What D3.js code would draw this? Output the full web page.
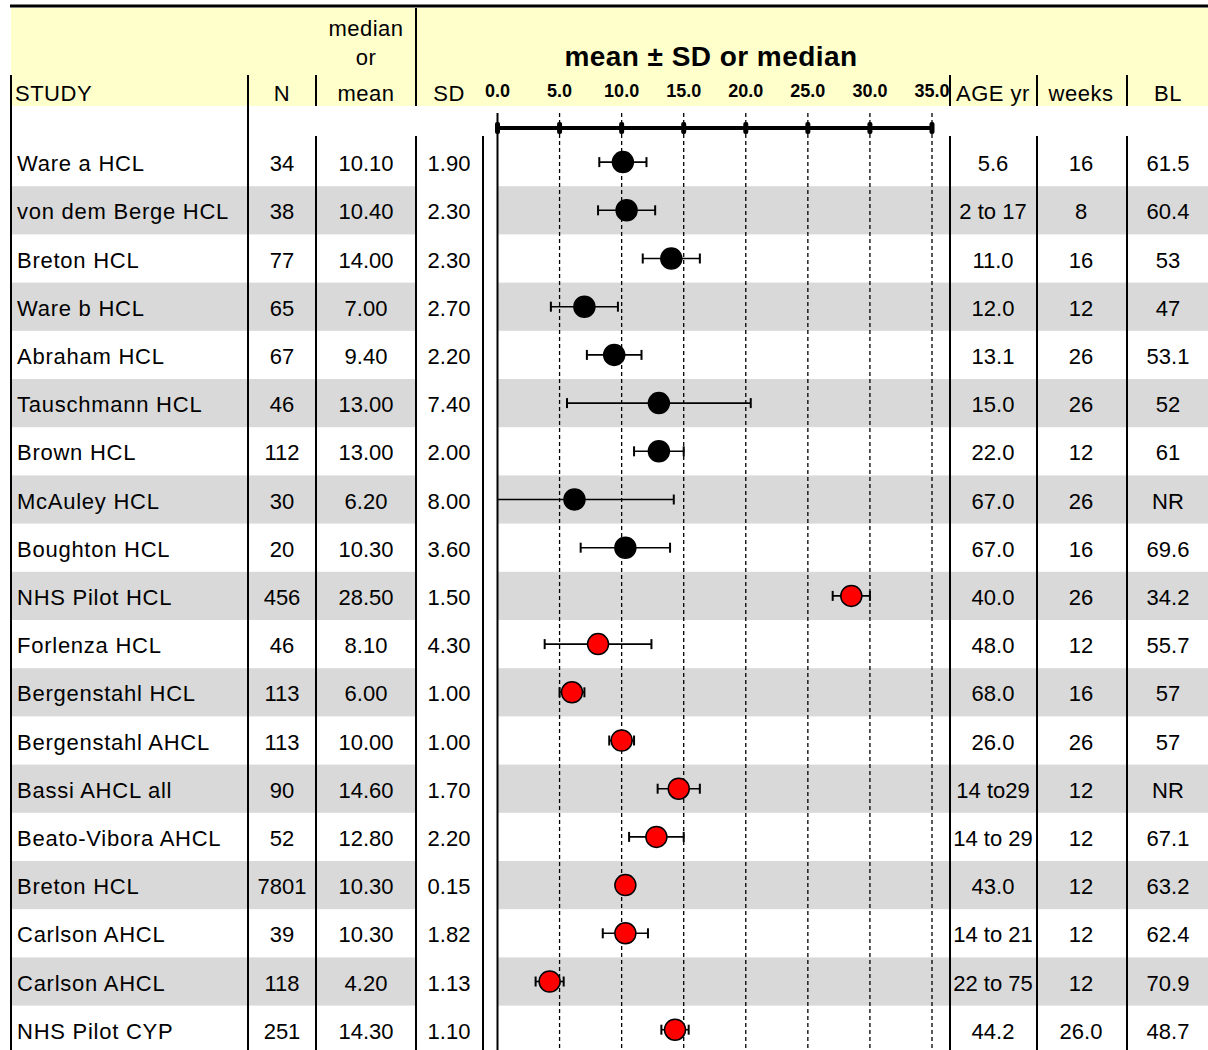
<!DOCTYPE html>
<html>
<head>
<meta charset="utf-8">
<script src="https://cdn.jsdelivr.net/npm/d3@7"></script>
<style>
  body { margin: 0; background: #fff; }
  svg text { font-family: "Liberation Sans", Arial, sans-serif; fill: #000; }
</style>
</head>
<body>
<div id="chart"></div>
<script>
const studies = ['Ware a HCL', 'von dem Berge HCL', 'Breton HCL', 'Ware b HCL', 'Abraham HCL', 'Tauschmann HCL',
                 'Brown HCL', 'McAuley HCL', 'Boughton HCL', 'NHS Pilot HCL', 'Forlenza HCL', 'Bergenstahl HCL',
                 'Bergenstahl AHCL', 'Bassi AHCL all', 'Beato-Vibora AHCL', 'Breton HCL', 'Carlson AHCL',
                 'Carlson AHCL', 'NHS Pilot CYP'];
const nVals = [34, 38, 77, 65, 67, 46, 112, 30, 20, 456, 46, 113, 113, 90, 52, 7801, 39, 118, 251];
const means = [10.1, 10.4, 14.0, 7.0, 9.4, 13.0, 13.0, 6.2, 10.3, 28.5, 8.1, 6.0, 10.0, 14.6, 12.8, 10.3, 10.3, 4.2, 14.3];
const sds = [1.9, 2.3, 2.3, 2.7, 2.2, 7.4, 2.0, 8.0, 3.6, 1.5, 4.3, 1.0, 1.0, 1.7, 2.2, 0.15, 1.82, 1.13, 1.1];
const ages = ['5.6', '2 to 17', '11.0', '12.0', '13.1', '15.0', '22.0', '67.0', '67.0', '40.0', '48.0', '68.0',
              '26.0', '14 to29', '14 to 29', '43.0', '14 to 21', '22 to 75', '44.2'];
const weeks = ['16', '8', '16', '12', '26', '26', '12', '26', '16', '26', '12', '16', '26', '12', '12', '12', '12', '12', '26.0'];
const baseline = ['61.5', '60.4', '53', '47', '53.1', '52', '61', 'NR', '69.6', '34.2', '55.7', '57', '57', 'NR',
                  '67.1', '63.2', '62.4', '70.9', '48.7'];
const group = ['A', 'A', 'A', 'A', 'A', 'A', 'A', 'A', 'A', 'B', 'B', 'B', 'B', 'B', 'B', 'B', 'B', 'B', 'B'];
const axisTicks = [0, 5, 10, 15, 20, 25, 30, 35];

const W = 1208, H = 1050;
const left = 11, headTop = 8, headBottom = 106, bodyTop = 138, rowH = 48.2;

const svg = d3.select('#chart').append('svg').attr('width', W).attr('height', H);

const x = d3.scaleLinear().domain([0, 35]).range([497.5, 932]);
const y = d3.scaleBand().domain(d3.range(studies.length))
            .range([bodyTop, bodyTop + rowH * studies.length]);
const color = d3.scaleOrdinal(['A', 'B'], ['#000000', '#ff0000']);

// header
svg.append('rect').attr('x', left).attr('y', headTop).attr('width', W - left).attr('height', headBottom - headTop)
   .attr('fill', '#ffffcc');
svg.append('line').attr('x1', left - 1).attr('x2', W).attr('y1', 6).attr('y2', 6)
   .attr('stroke', '#000').attr('stroke-width', 3);

// row bands
const bands = svg.append('g');
d3.range(studies.length).filter(i => i % 2 === 1).forEach(i => {
    bands.append('rect').attr('x', left).attr('y', y(i)).attr('width', 416 - left).attr('height', y.bandwidth())
         .attr('fill', '#d9d9d9');
    bands.append('rect').attr('x', 497).attr('y', y(i)).attr('width', W - 497).attr('height', y.bandwidth())
         .attr('fill', '#d9d9d9');
});

// column divider lines
const vline = (xx, y1, y2, w) => svg.append('line').attr('x1', xx).attr('x2', xx).attr('y1', y1).attr('y2', y2)
                                    .attr('stroke', '#000').attr('stroke-width', w || 2);
vline(left, 75, H);
vline(248, 75, H);
[316, 950, 1037, 1127].forEach(xx => { vline(xx, 75, headBottom); vline(xx, 136, H); });
vline(416, headTop, headBottom);
vline(416, 136, H);
vline(483, 136, H);

// grid lines
svg.append('g').selectAll('line').data(axisTicks).join('line')
   .attr('x1', d => x(d)).attr('x2', d => x(d)).attr('y1', 113).attr('y2', H)
   .attr('stroke', '#000')
   .attr('stroke-width', d => d === 0 ? 2 : 1.3)
   .attr('stroke-dasharray', d => d === 0 ? null : '4,3');

// axis
const axis = svg.append('g');
axis.append('line').attr('x1', x(0)).attr('x2', x(35)).attr('y1', 128).attr('y2', 128)
    .attr('stroke', '#000').attr('stroke-width', 4);
axis.selectAll('rect.tick').data(axisTicks).join('rect').attr('class', 'tick')
    .attr('x', d => x(d) - 2.5).attr('y', 122).attr('width', 5).attr('height', 12).attr('rx', 2)
    .attr('fill', '#000');

svg.append('clipPath').attr('id', 'tickclip').append('rect')
   .attr('x', 470).attr('y', 70).attr('width', 950 - 470).attr('height', 40);
svg.append('g').attr('clip-path', 'url(#tickclip)')
   .selectAll('text').data(axisTicks).join('text')
   .attr('x', d => x(d)).attr('y', 97).attr('text-anchor', 'middle')
   .attr('font-size', 18).attr('font-weight', 'bold')
   .text(d3.format('.1f'));

// header text
const head = svg.append('g').attr('font-size', 22).attr('letter-spacing', 0.5);
head.append('text').attr('x', 15).attr('y', 101).text('STUDY');
head.append('text').attr('x', 282).attr('y', 101).attr('text-anchor', 'middle').text('N');
head.append('text').attr('x', 366).attr('y', 36).attr('text-anchor', 'middle').text('median');
head.append('text').attr('x', 366).attr('y', 65).attr('text-anchor', 'middle').text('or');
head.append('text').attr('x', 366).attr('y', 101).attr('text-anchor', 'middle').text('mean');
head.append('text').attr('x', 449).attr('y', 101).attr('text-anchor', 'middle').text('SD');
head.append('text').attr('x', 993).attr('y', 101).attr('text-anchor', 'middle').text('AGE yr');
head.append('text').attr('x', 1081).attr('y', 101).attr('text-anchor', 'middle').text('weeks');
head.append('text').attr('x', 1168).attr('y', 101).attr('text-anchor', 'middle').text('BL');
svg.append('text').attr('x', 711).attr('y', 66).attr('text-anchor', 'middle').attr('letter-spacing', 0.45)
   .attr('font-size', 28).attr('font-weight', 'bold').text('mean ± SD or median');

// table cells
const cols = [
    {vals: studies, x: 17, anchor: 'start', ls: 0.75},
    {vals: nVals, x: 282, anchor: 'middle'},
    {vals: means.map(d3.format('.2f')), x: 366, anchor: 'middle'},
    {vals: sds.map(d3.format('.2f')), x: 449, anchor: 'middle'},
    {vals: ages, x: 993, anchor: 'middle'},
    {vals: weeks, x: 1081, anchor: 'middle'},
    {vals: baseline, x: 1168, anchor: 'middle'}
];
const cells = svg.append('g').attr('font-size', 22);
cols.forEach(c => {
    cells.append('g').attr('letter-spacing', c.ls || 0)
         .selectAll('text').data(c.vals).join('text')
         .attr('x', c.x).attr('y', (d, i) => y(i) + y.bandwidth() / 2 + 9)
         .attr('text-anchor', c.anchor)
         .text(d => d);
});

// error bars and points
const rows = svg.append('g').selectAll('g').data(d3.range(studies.length)).join('g')
                .attr('transform', i => `translate(0,${y(i) + y.bandwidth() / 2})`);
rows.append('line')
    .attr('x1', i => x(Math.max(0, means[i] - sds[i]))).attr('x2', i => x(means[i] + sds[i]))
    .attr('stroke', '#000').attr('stroke-width', 1.6);
rows.filter(i => means[i] - sds[i] >= 0).append('line')
    .attr('x1', i => x(means[i] - sds[i])).attr('x2', i => x(means[i] - sds[i]))
    .attr('y1', -5).attr('y2', 5).attr('stroke', '#000').attr('stroke-width', 2);
rows.append('line')
    .attr('x1', i => x(means[i] + sds[i])).attr('x2', i => x(means[i] + sds[i]))
    .attr('y1', -5).attr('y2', 5).attr('stroke', '#000').attr('stroke-width', 2);
rows.append('circle')
    .attr('cx', i => x(means[i])).attr('r', 10.5)
    .attr('fill', i => color(group[i])).attr('stroke', '#000').attr('stroke-width', 1.5);
</script>
</body>
</html>
